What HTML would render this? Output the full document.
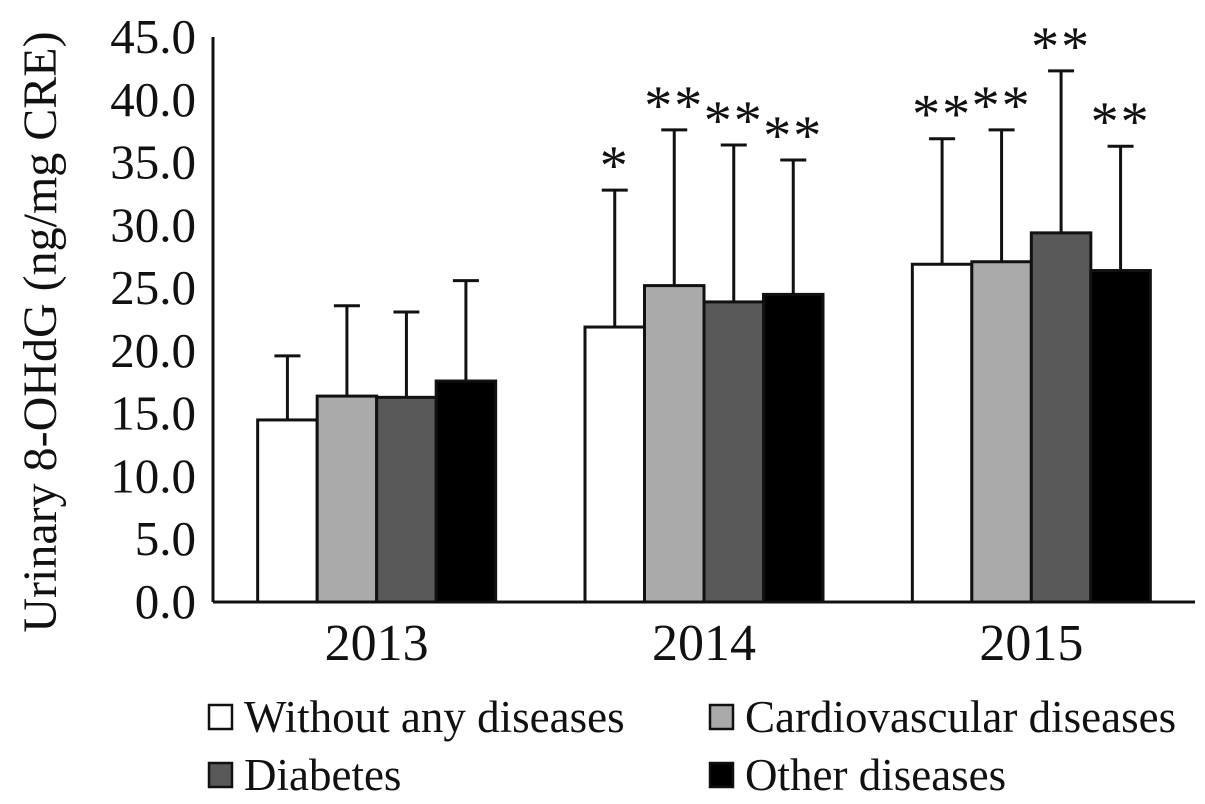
<!DOCTYPE html>
<html><head><meta charset="utf-8"><style>
html,body{margin:0;padding:0;background:#fff;}
svg{display:block;font-family:"Liberation Serif",serif;}
</style></head><body>
<svg id="chart" width="1205" height="804"></svg>
<script>
const categories=["2013","2014","2015"];
const seriesNames=["Without any diseases","Cardiovascular diseases","Diabetes","Other diseases"];
const seriesColors=["#ffffff","#aaaaaa","#595959","#000000"];
const meanWithout=[14.5,21.9,26.9];
const meanCardio=[16.4,25.2,27.1];
const meanDiabetes=[16.3,23.9,29.4];
const meanOther=[17.6,24.5,26.4];
const errWithout=[5.1,10.9,10.0];
const errCardio=[7.2,12.4,10.5];
const errDiabetes=[6.8,12.5,12.9];
const errOther=[8.0,10.7,9.9];
const stars=[["","","",""],["*","**","**","**"],["**","**","**","**"]];
const yTicks=[0,5,10,15,20,25,30,35,40,45];
const yTickLabels=["0.0","5.0","10.0","15.0","20.0","25.0","30.0","35.0","40.0","45.0"];

const NS="http://www.w3.org/2000/svg";
const svg=document.getElementById('chart');
const x0=213,x1=1195,y0=602,yTop=37,yMax=45;
const yS=v=>y0-(y0-yTop)*v/yMax;
const gW=(x1-x0)/categories.length,bW=59.5;
const xC=i=>x0+gW*(i+0.5);
function mk(t,a,p){const e=document.createElementNS(NS,t);for(const k in a)e.setAttribute(k,a[k]);(p||svg).appendChild(e);return e;}
const means=[meanWithout,meanCardio,meanDiabetes,meanOther];
const errs=[errWithout,errCardio,errDiabetes,errOther];
yTicks.forEach((v,i)=>{const t=mk('text',{x:196,y:yS(v)+16,'text-anchor':'end','font-size':49,fill:'#111'});t.textContent=yTickLabels[i];

});
const yt=mk('text',{x:0,y:0,transform:'translate(56,332) rotate(-90)','text-anchor':'middle','font-size':48,fill:'#111'});
yt.textContent="Urinary 8-OHdG (ng/mg CRE)";


categories.forEach((c,i)=>{
  means.forEach((m,s)=>{
    const bx=xC(i)-2*bW+s*bW, cx=bx+bW/2, top=yS(m[i]), et=yS(m[i]+errs[s][i]);
    const l=mk('line',{x1:cx,y1:top,x2:cx,y2:et,stroke:'#111','stroke-width':3});
    
    
    const cap=mk('line',{x1:cx-13,y1:et,x2:cx+13,y2:et,stroke:'#111','stroke-width':3});
    
    
    const r=mk('rect',{x:bx,y:top,width:bW,height:y0-top,fill:seriesColors[s],stroke:'#111','stroke-width':3});
    
    
    if(stars[i][s]){const st=mk('text',{x:cx,y:et-6,'text-anchor':'middle','font-size':56,'letter-spacing':2,fill:'#111'});st.textContent=stars[i][s];
    
    }
  });
  const t=mk('text',{x:xC(i),y:660,'text-anchor':'middle','font-size':52,fill:'#111'});t.textContent=c;
  
  
});
const ax=mk('line',{x1:x0,y1:yTop,x2:x0,y2:y0,stroke:'#111','stroke-width':3});


const bx=mk('line',{x1:x0,y1:y0,x2:x1,y2:y0,stroke:'#111','stroke-width':3});


const lp=[[209,730],[710,730],[209,788],[710,788]];
seriesNames.forEach((n,s)=>{
  const g=mk('g',{});
  
  
  mk('rect',{x:lp[s][0],y:lp[s][1]-25,width:23,height:24,fill:seriesColors[s],stroke:'#111','stroke-width':2.5},g);
  const t=mk('text',{x:lp[s][0]+35,y:lp[s][1]+2,'font-size':45,fill:'#111'},g);t.textContent=n;
});
</script>
</body></html>
